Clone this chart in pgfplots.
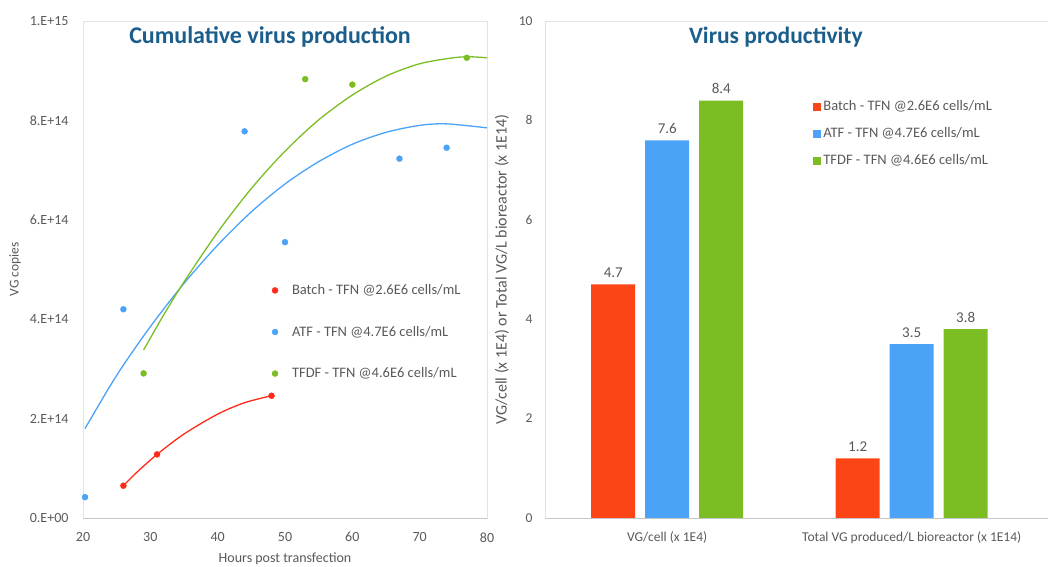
\documentclass[border=0pt]{standalone}
\usepackage{fontspec}
\setmainfont{Carlito}
\usepackage{pgfplots}
\pgfplotsset{compat=1.18}
\definecolor{cred}{HTML}{FC4516}
\definecolor{lred}{HTML}{FF2A1A}
\definecolor{cblue}{HTML}{4BA3F8}
\definecolor{cgreen}{HTML}{7BBD23}
\definecolor{tgray}{HTML}{595959}
\definecolor{ttl}{HTML}{1B5E8C}
\definecolor{frame}{HTML}{E2E2E2}
\begin{document}
\begin{tikzpicture}[x=1pt,y=1pt]
\useasboundingbox (0,0) rectangle (1048,566);
% ---------------- left chart ----------------
\begin{axis}[at={(83pt,48pt)}, anchor=south west, scale only axis,
  width=404pt, height=497pt,
  xmin=20, xmax=80, ymin=0, ymax=1e15,
  xtick={20,30,...,80},
  ytick={0,2e14,4e14,6e14,8e14,1e15},
  yticklabels={0.E+00,2.E+14,4.E+14,6.E+14,8.E+14,1.E+15},
  scaled y ticks=false,
  major tick length=0pt,
  axis line style={frame, line width=1pt},
  ticklabel style={font=\fontsize{14}{16}\selectfont, text=tgray},
  xticklabel style={yshift=-11pt},
  yticklabel style={xshift=-11pt},
  /pgf/number format/assume math mode=true,
  xlabel={Hours post transfection},
  xlabel style={at={(rel axis cs:0.5,0)}, anchor=center, yshift=-41pt, font=\fontsize{14}{16}\selectfont, text=tgray},
  ylabel={VG copies},
  ylabel style={at={(axis description cs:-0.168,0.5)}, anchor=center, rotate=0, font=\fontsize{13.5}{15}\selectfont, text=tgray},
  title={\textbf{Cumulative virus production}},
  title style={at={(axis description cs:0.463,0.97)}, anchor=center, yshift=-7pt, font=\fontsize{24}{28}\selectfont, text=ttl},
  legend style={at={(axis description cs:0.46,0.478)}, anchor=north west, draw=none, fill=none,
    font=\fontsize{14.5}{16}\selectfont, text=tgray, row sep=26pt, nodes={inner xsep=14pt}},
  legend cell align=left,
]
\addplot[only marks, mark=*, mark size=3pt, color=lred] coordinates {(26,0.65e14) (31,1.28e14) (48,2.46e14)};
\addlegendentry{Batch - TFN @2.6E6 cells/mL}
\addplot[only marks, mark=*, mark size=3pt, color=cblue] coordinates {(20.3,0.42e14) (26,4.2e14) (44,7.78e14) (50,5.55e14) (67,7.23e14) (74,7.45e14)};
\addlegendentry{ATF - TFN @4.7E6 cells/mL}
\addplot[only marks, mark=*, mark size=3pt, color=cgreen] coordinates {(29,2.91e14) (53,8.83e14) (60,8.72e14) (77,9.26e14)};
\addlegendentry{TFDF - TFN @4.6E6 cells/mL}
% trend curves
\addplot[forget plot, smooth, lred, line width=1.3pt] coordinates {(26,0.65e14) (28,0.92e14) (31,1.28e14) (35,1.69e14) (40,2.09e14) (44,2.32e14) (48,2.46e14)};
\addplot[forget plot, smooth, cblue, line width=1.3pt] coordinates {(20.3,1.80e14) (25,2.87e14) (30,3.85e14) (35,4.72e14) (40,5.49e14) (45,6.16e14) (50,6.72e14) (55,7.17e14) (60,7.52e14) (65,7.76e14) (70,7.90e14) (74,7.93e14) (80,7.85e14)};
\addplot[forget plot, smooth, cgreen, line width=1.3pt] coordinates {(29,3.38e14) (32,4.09e14) (35,4.75e14) (40,5.75e14) (45,6.63e14) (50,7.38e14) (55,8.01e14) (60,8.51e14) (65,8.89e14) (70,9.14e14) (75,9.26e14) (77.5,9.28e14) (80,9.26e14)};
\draw[gray!45, line width=1pt] (rel axis cs:0,0) -- (rel axis cs:1,0);
\end{axis}
% ---------------- right chart ----------------
\begin{axis}[at={(545pt,48pt)}, anchor=south west, scale only axis,
  width=520pt, height=497pt,
  ybar=10pt, bar width=44pt,
  xmin=-0.5, xmax=1.627, ymin=0, ymax=10,
  enlargelimits=false,
  xtick={0,1},
  xticklabels={VG/cell (x 1E4), Total VG produced/L bioreactor (x 1E14)},
  ytick={0,2,...,10},
  major tick length=0pt,
  axis line style={frame, line width=1pt},
  ticklabel style={font=\fontsize{13.5}{15}\selectfont, text=tgray},
  xticklabel style={yshift=-10pt},
  yticklabel style={xshift=-9pt},
  /pgf/number format/assume math mode=true,
  ylabel={VG/cell (x 1E4) or Total VG/L bioreactor (x 1E14)},
  ylabel style={at={(axis description cs:-0.0827,0.5)}, anchor=center, font=\fontsize{16}{18}\selectfont, text=tgray},
  title={\textbf{Virus productivity}},
  title style={at={(axis description cs:0.444,0.97)}, anchor=center, yshift=-7pt, font=\fontsize{23.5}{27}\selectfont, text=ttl},
  nodes near coords,
  nodes near coords style={font=\fontsize{15}{17}\selectfont, text=tgray, yshift=3pt, /pgf/number format/.cd, fixed, fixed zerofill, precision=1},
  legend style={at={(axis description cs:0.51,0.848)}, anchor=north west, draw=none, fill=none,
    font=\fontsize{14.5}{16}\selectfont, text=tgray, row sep=11.5pt},
  legend cell align=left,
  legend image code/.code={\fill[#1] (0pt,-4pt) rectangle (8pt,4pt);},
]
\addplot[fill=cred, draw=none] coordinates {(0,4.7) (1,1.2)};
\addlegendentry{Batch - TFN @2.6E6 cells/mL}
\addplot[fill=cblue, draw=none] coordinates {(0,7.6) (1,3.5)};
\addlegendentry{ATF - TFN @4.7E6 cells/mL}
\addplot[fill=cgreen, draw=none] coordinates {(0,8.4) (1,3.8)};
\addlegendentry{TFDF - TFN @4.6E6 cells/mL}
\draw[gray!45, line width=1pt] (rel axis cs:0,0) -- (rel axis cs:1,0);
\end{axis}
\end{tikzpicture}
\end{document}
